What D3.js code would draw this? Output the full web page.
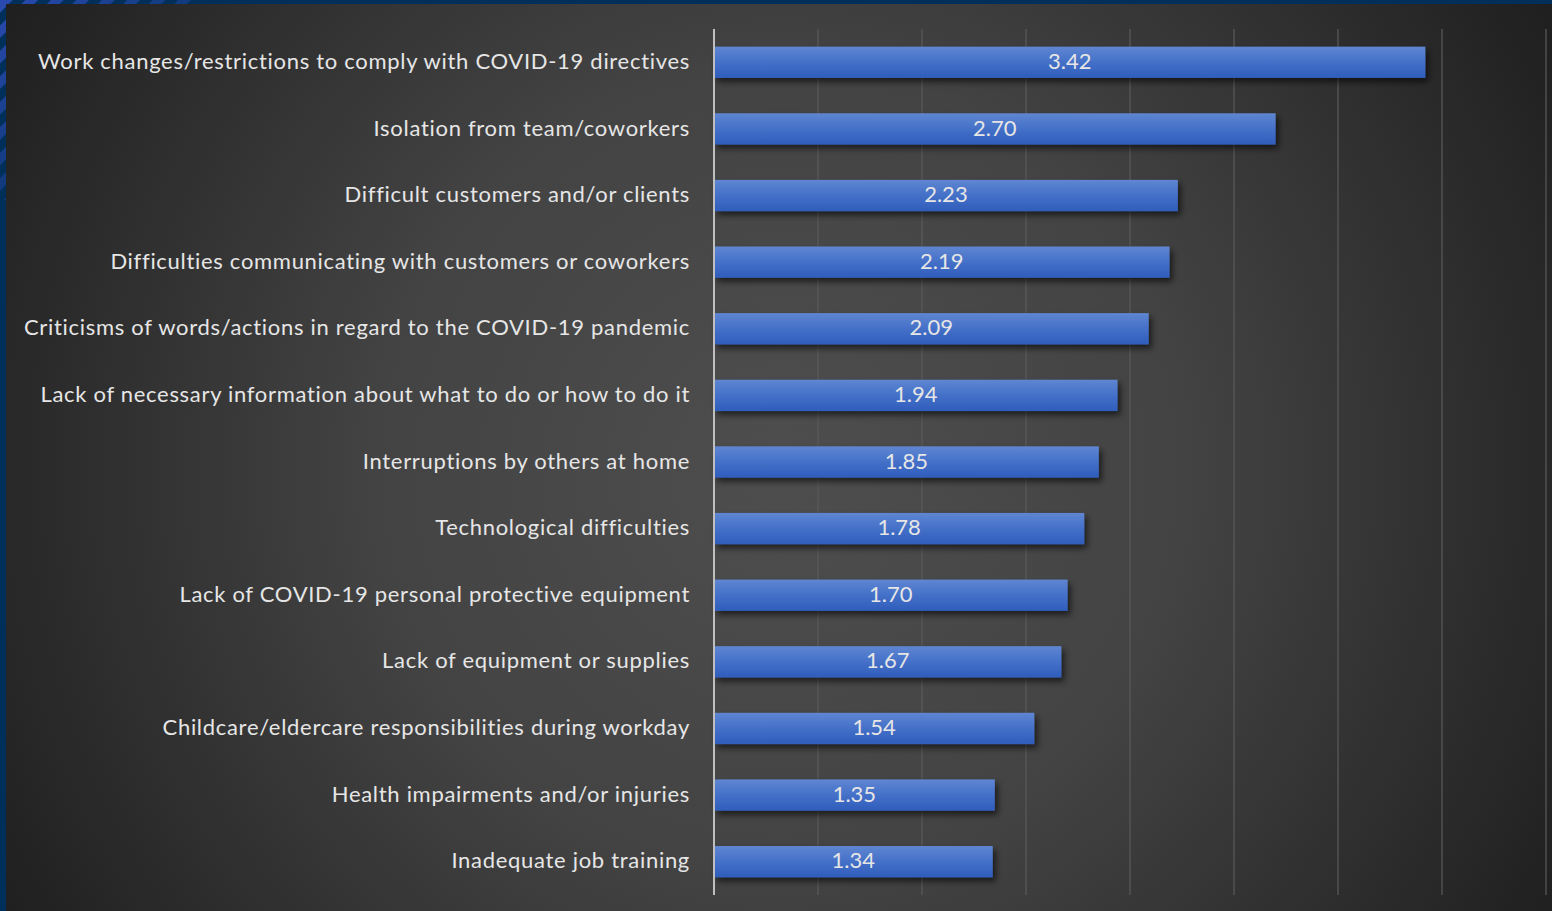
<!DOCTYPE html>
<html><head><meta charset="utf-8">
<script src="https://cdn.jsdelivr.net/npm/d3@7"></script>
<style>html,body{margin:0;padding:0;background:#00305a;overflow:hidden}</style>
</head><body>
<script>
const categories = [
  "Work changes/restrictions to comply with COVID-19 directives",
  "Isolation from team/coworkers",
  "Difficult customers and/or clients",
  "Difficulties communicating with customers or coworkers",
  "Criticisms of words/actions in regard to the COVID-19 pandemic",
  "Lack of necessary information about what to do or how to do it",
  "Interruptions by others at home",
  "Technological difficulties",
  "Lack of COVID-19 personal protective equipment",
  "Lack of equipment or supplies",
  "Childcare/eldercare responsibilities during workday",
  "Health impairments and/or injuries",
  "Inadequate job training"
];
const values = [3.42, 2.70, 2.23, 2.19, 2.09, 1.94, 1.85, 1.78, 1.70, 1.67, 1.54, 1.35, 1.34];
const gridTicks = [0.5, 1, 1.5, 2, 2.5, 3, 3.5, 4];

const W = 1552, H = 911;
const svg = d3.select("body").append("svg").attr("width", W).attr("height", H);
const defs = svg.append("defs");

// frame stripes pattern
const pat = defs.append("pattern").attr("id","stripes").attr("patternUnits","userSpaceOnUse")
  .attr("width",18).attr("height",18).attr("patternTransform","rotate(45)");
pat.append("rect").attr("width",18).attr("height",18).attr("fill","#00305a");
pat.append("rect").attr("width",9).attr("height",18).attr("fill","#2a4ab0");
const fade = defs.append("linearGradient").attr("id","fade").attr("x1","0").attr("y1","0").attr("x2","1").attr("y2","1");
fade.append("stop").attr("offset","0").attr("stop-color","#fff").attr("stop-opacity",1);
fade.append("stop").attr("offset","0.8").attr("stop-color","#fff").attr("stop-opacity",0);
const mask = defs.append("mask").attr("id","fmask");
mask.append("rect").attr("width",200).attr("height",200).attr("fill","url(#fade)");
svg.append("rect").attr("width",W).attr("height",H).attr("fill","#00305a");
svg.append("rect").attr("width",200).attr("height",200).attr("fill","url(#stripes)").attr("mask","url(#fmask)");

// chart background
const rg = defs.append("radialGradient").attr("id","bg").attr("gradientUnits","userSpaceOnUse")
  .attr("cx",780).attr("cy",470).attr("r",900);
rg.append("stop").attr("offset","0").attr("stop-color","#4e4e4e");
rg.append("stop").attr("offset","0.45").attr("stop-color","#434343");
rg.append("stop").attr("offset","1").attr("stop-color","#1f1f1f");
svg.append("rect").attr("x",6).attr("y",4).attr("width",W-6).attr("height",H-4).attr("fill","url(#bg)");

// bar gradient + shadow
const bg = defs.append("linearGradient").attr("id","bar").attr("x1",0).attr("y1",0).attr("x2",0).attr("y2",1);
bg.append("stop").attr("offset","0").attr("stop-color","#5f86d2");
bg.append("stop").attr("offset","0.5").attr("stop-color","#4470c8");
bg.append("stop").attr("offset","1").attr("stop-color","#2f5dbb");
const sh = defs.append("filter").attr("id","shadow").attr("x","-5%").attr("y","-30%").attr("width","115%").attr("height","180%");
sh.append("feDropShadow").attr("dx",3).attr("dy",4).attr("stdDeviation",3).attr("flood-color","#000").attr("flood-opacity",0.6);

const x0 = 714, x1 = 1546, yTop = 29, yBot = 895;
const x = d3.scaleLinear().domain([0, 4]).range([x0, x1]);
const y = d3.scaleBand().domain(categories).range([yTop, yBot]).paddingInner(0.53).paddingOuter(0.265);

// gridlines
svg.append("g").selectAll("line").data(gridTicks).join("line")
  .attr("x1", d => x(d)).attr("x2", d => x(d)).attr("y1", yTop).attr("y2", yBot)
  .attr("stroke", "#5a5a5a").attr("stroke-width", 2).attr("stroke-opacity", 0.6);

// bars
svg.append("g").selectAll("rect").data(values).join("rect")
  .attr("x", x(0)).attr("y", (d,i) => y(categories[i]))
  .attr("width", d => x(d) - x(0)).attr("height", y.bandwidth())
  .attr("fill", "url(#bar)").attr("filter", "url(#shadow)");

// axis line
svg.append("line").attr("x1", x0).attr("x2", x0).attr("y1", yTop).attr("y2", yBot)
  .attr("stroke", "#bfbfbf").attr("stroke-width", 2);

// value labels
svg.append("g").selectAll("text").data(values).join("text")
  .attr("x", d => (x(0) + x(d)) / 2).attr("y", (d,i) => y(categories[i]) + y.bandwidth()/2)
  .attr("dy", "0.3em").attr("text-anchor", "middle")
  .attr("font-family", "Lato, 'Open Sans', sans-serif").attr("font-size", 22)
  .attr("fill", "#e6e6e6").text(d => d.toFixed(2));

// category labels
svg.append("g").selectAll("text").data(categories).join("text")
  .attr("x", 690).attr("y", d => y(d) + y.bandwidth()/2)
  .attr("dy", "0.3em").attr("text-anchor", "end")
  .attr("font-family", "Lato, 'Open Sans', sans-serif").attr("font-size", 22)
  .attr("letter-spacing", "0.7px")
  .attr("fill", "#e6e6e6").text(d => d);
</script>
</body></html>
